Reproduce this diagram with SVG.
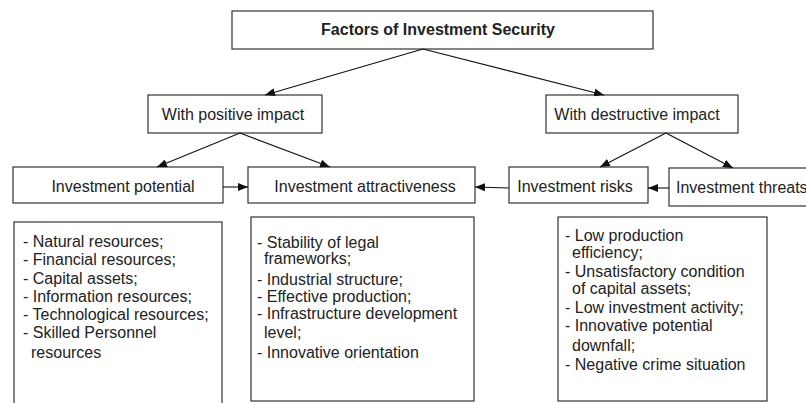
<svg xmlns="http://www.w3.org/2000/svg" width="806" height="403" viewBox="0 0 806 403">
<defs>
<marker id="ah" markerWidth="10" markerHeight="8" refX="10" refY="4" orient="auto" markerUnits="userSpaceOnUse">
<path d="M0,0 L10,4 L0,8 Z" fill="#111"/>
</marker>
<style>
.box{fill:#fff;stroke:#333;stroke-width:1.2}
.t{font-family:"Liberation Sans",Arial,sans-serif;font-size:16px;fill:#222}
.c{text-anchor:middle}
.b{font-weight:bold}
.e{stroke:#111;stroke-width:1.1;fill:none;marker-end:url(#ah)}
</style>
</defs>
<rect width="806" height="403" fill="#fff"/>
<g id="title">
<rect class="box" x="232" y="11" width="421" height="38"/>
<text class="t c b" x="438" y="35">Factors of Investment Security</text>
</g>
<g id="positive">
<rect class="box" x="148" y="95" width="174" height="38"/>
<text class="t c" x="233" y="120">With positive impact</text>
</g>
<g id="destructive">
<rect class="box" x="546" y="95" width="192" height="38"/>
<text class="t c" x="637" y="120">With destructive impact</text>
</g>
<g id="potential">
<rect class="box" x="13" y="167" width="210" height="36"/>
<text class="t c" x="123" y="192">Investment potential</text>
</g>
<g id="attractiveness">
<rect class="box" x="248" y="167" width="227" height="36"/>
<text class="t c" x="365" y="192">Investment attractiveness</text>
</g>
<g id="risks">
<rect class="box" x="509" y="167" width="139" height="36"/>
<text class="t c" x="575" y="192">Investment risks</text>
</g>
<g id="threats">
<rect class="box" x="669" y="168" width="150" height="38"/>
<text class="t" x="676" y="193">Investment threats</text>
</g>
<g id="potential-list">
<rect class="box" x="14" y="222" width="208" height="200"/>
<text class="t" x="23" y="247">- Natural resources;</text>
<text class="t" x="23" y="265">- Financial resources;</text>
<text class="t" x="23" y="284">- Capital assets;</text>
<text class="t" x="23" y="302">- Information resources;</text>
<text class="t" x="23" y="320">- Technological resources;</text>
<text class="t" x="23" y="338">- Skilled Personnel</text>
<text class="t" x="31" y="358">resources</text>
</g>
<g id="attractiveness-list">
<rect class="box" x="251" y="217" width="223" height="184"/>
<text class="t" x="257" y="248">- Stability of legal</text>
<text class="t" x="264" y="264">frameworks;</text>
<text class="t" x="257" y="285">- Industrial structure;</text>
<text class="t" x="257" y="302">- Effective production;</text>
<text class="t" x="257" y="319">- Infrastructure development</text>
<text class="t" x="264" y="338">level;</text>
<text class="t" x="257" y="358">- Innovative orientation</text>
</g>
<g id="risks-list">
<rect class="box" x="558" y="217" width="209" height="184"/>
<text class="t" x="565" y="241">- Low production</text>
<text class="t" x="572" y="258">efficiency;</text>
<text class="t" x="565" y="277">- Unsatisfactory condition</text>
<text class="t" x="572" y="294">of capital assets;</text>
<text class="t" x="565" y="313">- Low investment activity;</text>
<text class="t" x="565" y="331">- Innovative potential</text>
<text class="t" x="572" y="351">downfall;</text>
<text class="t" x="565" y="370">- Negative crime situation</text>
</g>
<g id="connectors">
<line class="e" x1="423" y1="49" x2="265" y2="95"/>
<line class="e" x1="423" y1="49" x2="604" y2="95"/>
<line class="e" x1="240" y1="133" x2="157" y2="167"/>
<line class="e" x1="240" y1="133" x2="330" y2="167"/>
<line class="e" x1="666" y1="133" x2="600" y2="167"/>
<line class="e" x1="666" y1="133" x2="733" y2="168"/>
<line class="e" x1="223" y1="187" x2="248" y2="187"/>
<line class="e" x1="509" y1="188" x2="475" y2="187"/>
<line class="e" x1="669" y1="188" x2="648" y2="188"/>
</g>
</svg>
